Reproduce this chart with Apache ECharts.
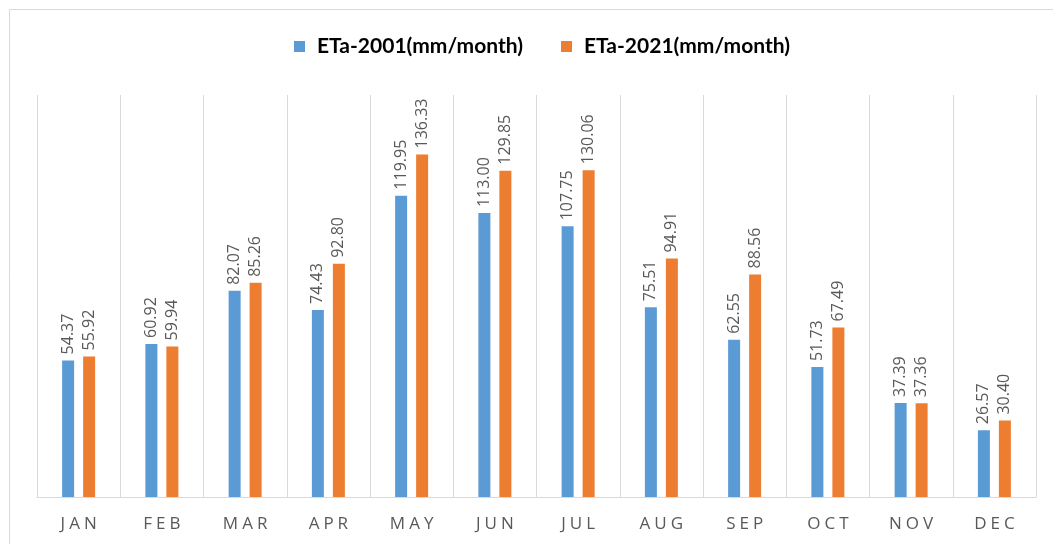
<!DOCTYPE html>
<html>
<head>
<meta charset="utf-8">
<script src="https://cdn.jsdelivr.net/npm/echarts@6/dist/echarts.min.js"></script>
<style>
html,body{margin:0;padding:0;background:#fff;}
#container{width:1053px;height:544px;}
</style>
</head>
<body>
<div id="container"></div>
<script>
var months = ['JAN','FEB','MAR','APR','MAY','JUN','JUL','AUG','SEP','OCT','NOV','DEC'];
var eta2001 = [54.37,60.92,82.07,74.43,119.95,113.00,107.75,75.51,62.55,51.73,37.39,26.57];
var eta2021 = [55.92,59.94,85.26,92.80,136.33,129.85,130.06,94.91,88.56,67.49,37.36,30.40];
var seriesNames = ['ETa-2001(mm/month)','ETa-2021(mm/month)'];

var labelStyle = {
	show: true,
	position: 'top',
	rotate: 90,
	align: 'left',
	verticalAlign: 'middle',
	distance: 6,
	color: '#595959',
	fontSize: 16,
	fontFamily: 'Open Sans',
	formatter: function (p) { return p.value.toFixed(2); }
};

var option = {
	animation: false,
	graphic: [{
		type: 'rect',
		shape: {x: 9.5, y: 9.5, width: 1060, height: 560},
		style: {fill: 'none', stroke: '#d9d9d9', lineWidth: 1}
	}],
	legend: {
		top: 31,
		left: 289,
		itemWidth: 11,
		itemHeight: 11,
		itemGap: 38,
		icon: 'rect',
		textStyle: {fontSize: 21, fontWeight: 'bold', color: '#000', fontFamily: 'Lato', padding: [0, 0, 0, 7]},
		data: seriesNames
	},
	grid: {left: 37, right: 17, top: 95, bottom: 47},
	xAxis: {
		type: 'category',
		data: months,
		axisLine: {lineStyle: {color: '#d9d9d9'}},
		axisTick: {show: false},
		splitLine: {show: true, interval: 0, lineStyle: {color: '#d9d9d9'}},
		axisLabel: {
			interval: 0,
			color: '#595959',
			margin: 19,
			//字母间距：每个字母单独成段
			formatter: function (v) {
				return v.split('').map(function (c) { return '{l|' + c + '}'; }).join('');
			},
			rich: {
				l: {fontSize: 17, fontFamily: 'Open Sans', color: '#595959', padding: [0, 2]}
			}
		}
	},
	yAxis: {
		type: 'value',
		min: 0,
		max: 160,
		show: false
	},
	series: [{
		name: seriesNames[0],
		type: 'bar',
		data: eta2001,
		barWidth: 12,
		barGap: '75%',
		itemStyle: {color: '#5b9bd5'},
		label: labelStyle
	}, {
		name: seriesNames[1],
		type: 'bar',
		data: eta2021,
		barWidth: 12,
		barGap: '75%',
		itemStyle: {color: '#ed7d31'},
		label: labelStyle
	}]
};

var myChart = echarts.init(document.getElementById('container'));
myChart.setOption(option, true);
</script>
</body>
</html>
